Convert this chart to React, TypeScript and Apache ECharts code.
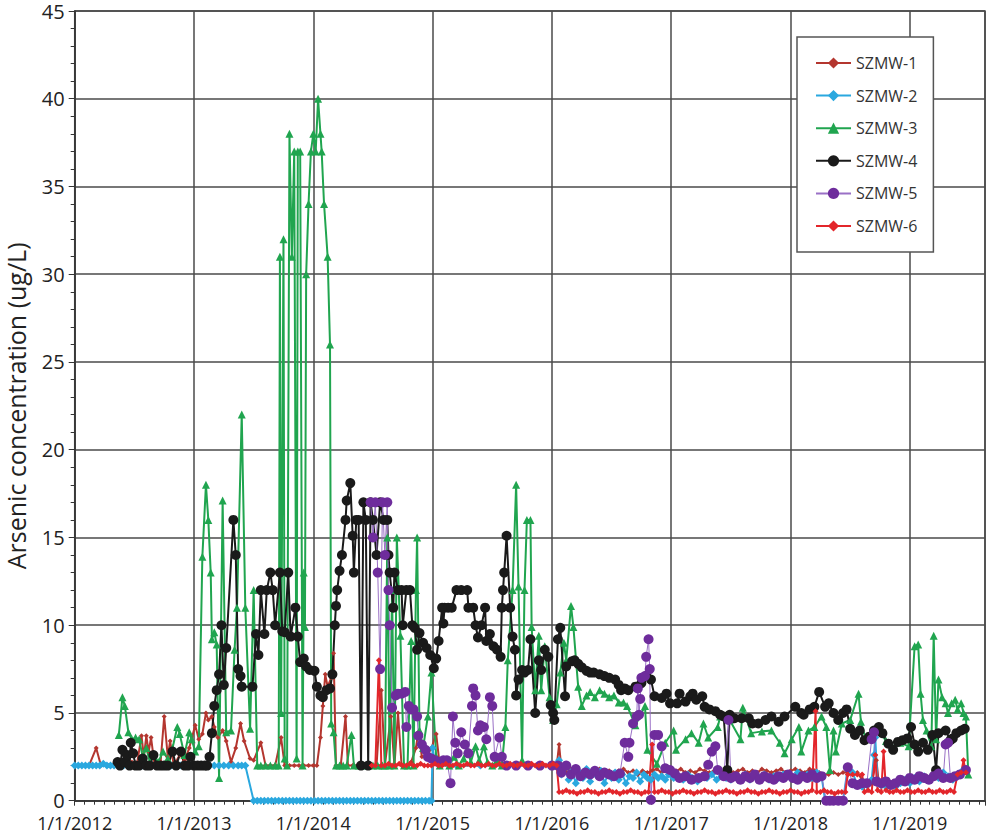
import React, { useEffect, useRef } from "react";
import * as echarts from "echarts";

type Pt = [number, number];

const seriesNames = ["SZMW-1", "SZMW-2", "SZMW-3", "SZMW-4", "SZMW-5", "SZMW-6"];
const yAxisTitle = "Arsenic concentration (ug/L)";
const xStartYear = 2012;
const xEndYear = 2019.63;

// x = decimal year, y = arsenic (ug/L)
const szmw1: Pt[] = [
  [2012.0, 2.0], [2012.06, 2.0], [2012.12, 2.0], [2012.18, 3.0], [2012.22, 2.0], [2012.28, 2.0], [2012.33, 2.1],
  [2012.38, 2.2], [2012.43, 2.0], [2012.48, 2.2], [2012.52, 2.0], [2012.56, 3.7], [2012.58, 2.5], [2012.6, 3.7],
  [2012.62, 2.8], [2012.64, 3.6], [2012.67, 2.0], [2012.72, 2.2], [2012.75, 4.8], [2012.78, 2.5], [2012.8, 3.4],
  [2012.83, 2.0], [2012.88, 2.6], [2012.92, 2.3], [2012.96, 3.0], [2013.01, 4.3], [2013.04, 3.5], [2013.07, 3.8],
  [2013.1, 5.0], [2013.12, 4.6], [2013.15, 4.8], [2013.17, 4.2], [2013.2, 3.6], [2013.24, 4.0], [2013.27, 3.4],
  [2013.31, 2.2], [2013.35, 3.0], [2013.39, 4.4], [2013.42, 3.4], [2013.47, 2.4], [2013.5, 2.3], [2013.56, 3.3],
  [2013.6, 2.0], [2013.64, 2.0], [2013.68, 2.0], [2013.73, 3.6], [2013.76, 2.0], [2013.8, 2.0], [2013.84, 2.0],
  [2013.88, 2.0], [2013.92, 2.0], [2013.96, 2.0], [2014.0, 2.0], [2014.03, 2.0], [2014.06, 3.6], [2014.08, 5.4],
  [2014.1, 7.2], [2014.12, 6.5], [2014.15, 7.0], [2014.17, 8.4], [2014.19, 2.0], [2014.23, 2.0], [2014.27, 4.8],
  [2014.29, 2.0], [2014.33, 2.0], [2014.37, 2.0], [2014.41, 2.0], [2014.45, 2.0], [2014.49, 2.0], [2014.53, 2.0],
  [2014.57, 6.3], [2014.6, 2.0], [2014.65, 4.8], [2014.68, 2.0], [2014.71, 5.0], [2014.74, 2.0], [2014.78, 2.0],
  [2014.82, 2.2], [2014.86, 3.0], [2014.88, 3.9], [2014.91, 2.5], [2014.95, 2.5], [2014.99, 3.0], [2015.03, 3.8],
  [2015.06, 2.0], [2015.2, 2.0], [2015.4, 2.0], [2015.6, 2.0], [2015.8, 2.0], [2016.0, 2.0], [2016.04, 2.0],
  [2016.06, 3.2], [2016.08, 1.8], [2016.12, 1.6], [2016.16, 1.8], [2016.2, 1.7], [2016.24, 1.6], [2016.28, 1.7],
  [2016.32, 1.5], [2016.36, 1.7], [2016.4, 1.8], [2016.44, 1.6], [2016.48, 1.7], [2016.52, 1.6], [2016.56, 1.7],
  [2016.6, 1.8], [2016.64, 1.6], [2016.68, 1.7], [2016.72, 1.5], [2016.76, 1.7], [2016.8, 1.6], [2016.84, 1.7],
  [2016.88, 1.8], [2016.92, 1.6], [2016.96, 1.7], [2017.0, 1.6], [2017.04, 1.7], [2017.08, 1.8], [2017.12, 1.6],
  [2017.16, 1.7], [2017.2, 1.6], [2017.24, 1.8], [2017.28, 1.7], [2017.32, 1.6], [2017.36, 1.7], [2017.4, 1.8],
  [2017.44, 1.6], [2017.48, 1.7], [2017.52, 1.6], [2017.56, 1.7], [2017.6, 1.8], [2017.64, 1.6], [2017.68, 1.7],
  [2017.72, 1.6], [2017.76, 1.8], [2017.8, 1.7], [2017.84, 1.6], [2017.88, 1.7], [2017.92, 1.8], [2017.96, 1.6],
  [2018.0, 1.7], [2018.04, 1.8], [2018.08, 1.7], [2018.12, 1.6], [2018.16, 1.8], [2018.2, 1.7], [2018.24, 1.6],
  [2018.28, 1.5], [2018.32, 1.5], [2018.36, 1.6], [2018.4, 1.5], [2018.44, 1.6], [2018.48, 1.6], [2018.52, 1.5],
  [2018.56, 1.6], [2018.6, 1.2], [2018.64, 0.9], [2018.68, 1.0], [2018.72, 2.3], [2018.74, 1.0], [2018.78, 0.9],
  [2018.82, 1.0], [2018.86, 1.1], [2018.9, 0.9], [2018.94, 1.0], [2018.98, 1.2], [2019.02, 1.1], [2019.06, 1.3],
  [2019.1, 1.2], [2019.14, 1.4], [2019.18, 1.2], [2019.22, 1.3], [2019.26, 1.5], [2019.3, 1.3], [2019.34, 1.2],
  [2019.38, 1.4], [2019.42, 1.6], [2019.46, 1.7],
];

const szmw2: Pt[] = [
  [2012.0, 2.0], [2012.03, 2.0], [2012.06, 2.0], [2012.09, 2.0], [2012.12, 2.0], [2012.15, 2.0], [2012.18, 2.0],
  [2012.21, 2.0], [2012.24, 2.1], [2012.27, 2.0], [2012.3, 2.0], [2012.33, 2.0], [2012.37, 2.0], [2012.41, 2.0],
  [2012.45, 2.0], [2012.49, 2.0], [2012.53, 2.0], [2012.57, 2.0], [2012.61, 2.0], [2012.65, 2.0], [2012.69, 2.0],
  [2012.73, 2.0], [2012.77, 2.0], [2012.81, 2.0], [2012.85, 2.0], [2012.89, 2.0], [2012.93, 2.0], [2012.97, 2.0],
  [2013.01, 2.0], [2013.05, 2.0], [2013.09, 2.0], [2013.13, 2.0], [2013.17, 2.0], [2013.21, 2.0], [2013.25, 2.0],
  [2013.29, 2.0], [2013.33, 2.0], [2013.37, 2.0], [2013.4, 2.0], [2013.43, 2.0],
  [2013.5, 0], [2013.53, 0], [2013.56, 0], [2013.59, 0], [2013.62, 0], [2013.65, 0], [2013.68, 0], [2013.71, 0],
  [2013.74, 0], [2013.77, 0], [2013.8, 0], [2013.83, 0], [2013.86, 0], [2013.89, 0], [2013.92, 0], [2013.95, 0],
  [2013.98, 0], [2014.01, 0], [2014.04, 0], [2014.07, 0], [2014.1, 0], [2014.13, 0], [2014.16, 0], [2014.19, 0],
  [2014.22, 0], [2014.25, 0], [2014.28, 0], [2014.31, 0], [2014.34, 0], [2014.37, 0], [2014.4, 0], [2014.43, 0],
  [2014.46, 0], [2014.49, 0], [2014.52, 0], [2014.55, 0], [2014.58, 0], [2014.61, 0], [2014.64, 0], [2014.67, 0],
  [2014.7, 0], [2014.73, 0], [2014.76, 0], [2014.79, 0], [2014.82, 0], [2014.85, 0], [2014.88, 0], [2014.91, 0],
  [2014.94, 0], [2014.97, 0], [2014.99, 0],
  [2015.0, 3.0], [2015.02, 2.2], [2015.06, 2.0], [2015.2, 2.0], [2015.4, 2.0], [2015.6, 2.0], [2015.8, 2.0],
  [2016.02, 2.0], [2016.06, 2.3], [2016.08, 1.5], [2016.11, 1.9], [2016.14, 1.2], [2016.17, 1.7], [2016.2, 1.0],
  [2016.23, 1.6], [2016.26, 1.3], [2016.29, 1.8], [2016.32, 1.1], [2016.35, 1.6], [2016.38, 1.4], [2016.41, 1.7],
  [2016.44, 1.0], [2016.47, 1.5], [2016.5, 1.3], [2016.53, 1.6], [2016.56, 1.2], [2016.59, 1.5], [2016.62, 1.0],
  [2016.65, 1.4], [2016.68, 1.3], [2016.71, 1.6], [2016.74, 1.1], [2016.77, 1.5], [2016.8, 1.3], [2016.83, 1.2],
  [2016.86, 1.5], [2016.89, 1.3], [2016.92, 1.4], [2016.95, 1.2], [2016.98, 1.5], [2017.02, 1.3], [2017.06, 1.4],
  [2017.1, 1.2], [2017.14, 1.5], [2017.18, 1.3], [2017.22, 1.1], [2017.26, 1.4], [2017.3, 1.3], [2017.34, 1.5],
  [2017.38, 1.2], [2017.42, 1.4], [2017.46, 1.3], [2017.5, 1.2], [2017.54, 1.4], [2017.58, 1.3], [2017.62, 1.5],
  [2017.66, 1.2], [2017.7, 1.4], [2017.74, 1.3], [2017.78, 1.5], [2017.82, 1.2], [2017.86, 1.4], [2017.9, 1.3],
  [2017.94, 1.5], [2017.98, 1.4], [2018.02, 1.3], [2018.06, 1.6], [2018.1, 1.4], [2018.14, 1.5], [2018.18, 1.3],
  [2018.22, 1.6], [2018.26, 1.4], [2018.29, 0], [2018.32, 0], [2018.35, 0], [2018.38, 0], [2018.41, 0], [2018.44, 0],
  [2018.48, 1.9], [2018.52, 1.6], [2018.56, 0.9], [2018.6, 0.8], [2018.64, 0.9], [2018.68, 1.2], [2018.7, 2.6],
  [2018.71, 3.6], [2018.73, 1.0], [2018.76, 0.9], [2018.8, 0.8], [2018.84, 0.9], [2018.88, 0.8], [2018.92, 1.0],
  [2018.96, 1.2], [2019.0, 1.0], [2019.04, 1.3], [2019.08, 1.1], [2019.12, 1.4], [2019.16, 1.2], [2019.2, 1.5],
  [2019.24, 1.3], [2019.28, 1.6], [2019.32, 1.4], [2019.36, 1.2], [2019.4, 1.5], [2019.44, 1.7], [2019.47, 1.8],
];

const szmw3: Pt[] = [
  [2012.37, 3.75], [2012.4, 5.9], [2012.42, 5.4], [2012.45, 3.9], [2012.48, 3.5], [2012.51, 3.6], [2012.54, 3.5],
  [2012.57, 2.5], [2012.6, 3.0], [2012.63, 2.2], [2012.66, 2.6], [2012.7, 2.2], [2012.74, 2.8], [2012.78, 2.4],
  [2012.82, 3.0], [2012.86, 4.2], [2012.88, 3.8], [2012.92, 2.6], [2012.96, 3.9], [2012.98, 3.5], [2013.01, 2.8],
  [2013.04, 3.1], [2013.07, 13.9], [2013.1, 18.0], [2013.12, 16.0], [2013.14, 13.0], [2013.15, 9.2], [2013.17, 9.6],
  [2013.19, 8.9], [2013.21, 1.3], [2013.24, 17.1], [2013.27, 3.9], [2013.31, 4.0], [2013.34, 8.6], [2013.36, 11.0],
  [2013.4, 22.0], [2013.43, 11.0], [2013.47, 4.1], [2013.5, 12.0], [2013.53, 2.0], [2013.56, 2.0], [2013.6, 2.0],
  [2013.64, 2.0], [2013.68, 2.0], [2013.71, 2.0], [2013.72, 31.0], [2013.73, 5.0], [2013.75, 32.0], [2013.76, 2.4],
  [2013.78, 2.0], [2013.8, 38.0], [2013.82, 31.0], [2013.84, 37.0], [2013.86, 2.4], [2013.87, 37.0], [2013.89, 37.0],
  [2013.91, 2.0], [2013.92, 13.0], [2013.93, 9.9], [2013.94, 30.0], [2013.96, 34.0], [2013.98, 37.0], [2014.0, 38.0],
  [2014.02, 37.0], [2014.04, 40.0], [2014.06, 38.0], [2014.07, 37.0], [2014.09, 34.0], [2014.12, 31.0],
  [2014.14, 26.0], [2014.15, 4.4], [2014.17, 3.9], [2014.19, 2.0], [2014.22, 2.0], [2014.25, 2.0], [2014.28, 2.0],
  [2014.32, 3.75], [2014.34, 2.0], [2014.38, 2.0], [2014.42, 2.0], [2014.46, 2.0], [2014.5, 2.0], [2014.54, 2.0],
  [2014.58, 2.0], [2014.6, 2.0], [2014.62, 15.0], [2014.64, 2.0], [2014.66, 12.0], [2014.68, 2.0], [2014.7, 15.0],
  [2014.73, 9.4], [2014.76, 2.0], [2014.79, 2.0], [2014.82, 9.1], [2014.84, 2.0], [2014.86, 12.0], [2014.87, 15.0],
  [2014.89, 4.0], [2014.92, 3.0], [2014.96, 4.8], [2014.99, 7.3], [2015.03, 2.5], [2015.06, 2.0], [2015.1, 2.2],
  [2015.14, 2.0], [2015.18, 2.5], [2015.22, 2.0], [2015.26, 2.4], [2015.29, 2.9], [2015.32, 2.2], [2015.36, 3.1],
  [2015.39, 2.3], [2015.43, 3.1], [2015.46, 2.2], [2015.5, 2.0], [2015.54, 2.3], [2015.58, 2.0], [2015.61, 4.2],
  [2015.63, 8.0], [2015.67, 12.0], [2015.7, 18.0], [2015.72, 12.2], [2015.75, 2.3], [2015.77, 12.0], [2015.79, 16.0],
  [2015.82, 16.0], [2015.83, 9.9], [2015.86, 6.3], [2015.89, 9.4], [2015.91, 6.3], [2015.94, 8.8], [2015.98, 5.9],
  [2016.01, 4.6], [2016.04, 5.5], [2016.07, 7.3], [2016.1, 9.0], [2016.12, 8.0], [2016.16, 11.1], [2016.18, 9.9],
  [2016.22, 6.5], [2016.25, 5.4], [2016.29, 6.0], [2016.32, 6.2], [2016.36, 5.9], [2016.4, 6.3], [2016.44, 6.1],
  [2016.48, 5.9], [2016.52, 6.0], [2016.56, 5.6], [2016.6, 5.6], [2016.63, 5.4], [2016.7, 4.3], [2016.78, 5.4],
  [2016.8, 2.9], [2016.88, 2.1], [2016.95, 3.3], [2017.02, 4.0], [2017.04, 2.9], [2017.12, 3.5], [2017.17, 3.85],
  [2017.23, 3.3], [2017.27, 4.4], [2017.31, 3.6], [2017.39, 4.2], [2017.41, 4.8], [2017.49, 4.6], [2017.58, 3.5],
  [2017.6, 5.3], [2017.67, 3.85], [2017.76, 3.95], [2017.84, 4.0], [2017.91, 3.3], [2017.95, 2.7], [2018.01, 3.5],
  [2018.07, 4.2], [2018.09, 2.8], [2018.15, 4.0], [2018.2, 4.2], [2018.26, 4.8], [2018.3, 4.2], [2018.33, 1.75],
  [2018.36, 4.0], [2018.38, 2.8], [2018.43, 4.4], [2018.5, 4.6], [2018.57, 6.1], [2018.59, 4.5], [2018.63, 3.5],
  [2018.68, 3.7], [2018.74, 4.0], [2018.8, 3.4], [2018.86, 3.0], [2018.92, 3.3], [2018.99, 3.1], [2019.04, 8.8],
  [2019.07, 8.9], [2019.09, 6.1], [2019.11, 4.6], [2019.14, 4.0], [2019.18, 3.1], [2019.2, 9.4], [2019.22, 3.5],
  [2019.24, 6.9], [2019.27, 5.9], [2019.3, 5.55], [2019.32, 5.0], [2019.35, 5.55], [2019.38, 5.75], [2019.4, 5.2],
  [2019.43, 5.55], [2019.45, 5.0], [2019.47, 4.8], [2019.49, 1.5],
];

const szmw4: Pt[] = [
  [2012.36, 2.2], [2012.38, 2.0], [2012.4, 2.9], [2012.42, 2.2], [2012.44, 2.6], [2012.46, 2.0], [2012.47, 3.3],
  [2012.49, 2.7], [2012.51, 2.0], [2012.54, 2.0], [2012.57, 2.4], [2012.6, 2.0], [2012.63, 2.0], [2012.66, 2.6],
  [2012.69, 2.0], [2012.72, 2.0], [2012.75, 2.0], [2012.78, 2.0], [2012.82, 2.8], [2012.85, 2.0], [2012.89, 2.8],
  [2012.92, 2.0], [2012.95, 2.0], [2012.97, 2.5], [2013.0, 2.0], [2013.03, 2.0], [2013.06, 2.0], [2013.09, 2.0],
  [2013.11, 2.0], [2013.13, 2.5], [2013.15, 3.85], [2013.17, 5.4], [2013.19, 6.3], [2013.21, 7.2], [2013.23, 10.0],
  [2013.25, 6.6], [2013.27, 8.7], [2013.33, 16.0], [2013.35, 14.0], [2013.37, 7.5], [2013.39, 7.1], [2013.4, 6.5],
  [2013.49, 6.5], [2013.52, 9.5], [2013.54, 8.3], [2013.56, 12.0], [2013.59, 9.5], [2013.61, 12.0], [2013.64, 13.0],
  [2013.66, 12.0], [2013.68, 10.0], [2013.72, 13.0], [2013.74, 9.65], [2013.76, 9.6], [2013.79, 13.0],
  [2013.81, 9.35], [2013.85, 11.0], [2013.87, 9.35], [2013.89, 7.9], [2013.92, 8.1], [2013.94, 7.65], [2013.97, 7.45],
  [2014.01, 7.4], [2014.03, 6.5], [2014.06, 6.0], [2014.08, 5.9], [2014.11, 6.3], [2014.14, 6.4], [2014.16, 7.2],
  [2014.18, 10.0], [2014.19, 11.1], [2014.2, 12.0], [2014.22, 13.1], [2014.24, 14.0], [2014.27, 16.0],
  [2014.28, 17.1], [2014.31, 18.1], [2014.33, 15.1], [2014.34, 13.0], [2014.36, 16.0], [2014.38, 16.0],
  [2014.4, 2.0], [2014.42, 17.0], [2014.44, 16.0], [2014.46, 2.0], [2014.48, 17.0], [2014.5, 16.0], [2014.53, 14.0],
  [2014.56, 17.0], [2014.59, 16.0], [2014.62, 16.0], [2014.63, 14.0], [2014.64, 13.0], [2014.67, 11.0],
  [2014.68, 13.0], [2014.71, 12.0], [2014.74, 12.0], [2014.75, 10.0], [2014.78, 12.0], [2014.81, 12.0],
  [2014.83, 10.0], [2014.85, 9.85], [2014.87, 8.6], [2014.89, 9.55], [2014.92, 9.0], [2014.95, 8.7], [2014.98, 8.3],
  [2015.01, 7.55], [2015.03, 8.1], [2015.05, 9.1], [2015.08, 11.0], [2015.09, 10.1], [2015.1, 11.0], [2015.13, 11.0],
  [2015.16, 11.0], [2015.2, 12.0], [2015.24, 12.0], [2015.29, 12.0], [2015.3, 11.0], [2015.34, 11.0], [2015.36, 10.0],
  [2015.38, 9.3], [2015.41, 10.0], [2015.44, 11.0], [2015.45, 9.1], [2015.48, 9.5], [2015.51, 8.8], [2015.54, 8.6],
  [2015.57, 8.2], [2015.58, 11.0], [2015.59, 12.0], [2015.6, 13.0], [2015.62, 15.1], [2015.65, 11.0], [2015.67, 9.35],
  [2015.69, 8.6], [2015.7, 6.0], [2015.72, 6.9], [2015.75, 7.45], [2015.77, 7.3], [2015.8, 7.45], [2015.82, 9.2],
  [2015.86, 5.0], [2015.89, 8.0], [2015.91, 7.45], [2015.94, 8.6], [2015.97, 8.2], [2015.99, 5.45], [2016.01, 5.0],
  [2016.02, 4.6], [2016.05, 9.2], [2016.07, 9.85], [2016.11, 5.95], [2016.12, 7.65], [2016.17, 7.95], [2016.19, 8.0],
  [2016.22, 7.8], [2016.25, 7.6], [2016.29, 7.4], [2016.32, 7.3], [2016.35, 7.3], [2016.4, 7.2], [2016.44, 7.1],
  [2016.48, 7.0], [2016.53, 6.9], [2016.56, 6.6], [2016.58, 6.3], [2016.61, 6.4], [2016.64, 6.3], [2016.7, 6.5],
  [2016.75, 6.7], [2016.79, 7.1], [2016.83, 6.9], [2016.86, 5.95], [2016.92, 5.85], [2016.96, 6.1], [2016.99, 5.55],
  [2017.05, 5.55], [2017.07, 6.1], [2017.12, 5.65], [2017.16, 5.95], [2017.18, 6.1], [2017.21, 5.75], [2017.26, 5.95],
  [2017.28, 5.35], [2017.32, 5.2], [2017.37, 5.1], [2017.41, 4.9], [2017.44, 4.8], [2017.47, 1.75], [2017.49, 4.9],
  [2017.53, 4.7], [2017.59, 4.7], [2017.65, 4.7], [2017.68, 4.4], [2017.73, 4.4], [2017.79, 4.6], [2017.84, 4.8],
  [2017.9, 4.5], [2017.95, 4.8], [2018.04, 5.35], [2018.09, 5.0], [2018.11, 4.9], [2018.16, 5.2], [2018.2, 5.35],
  [2018.24, 6.2], [2018.29, 5.35], [2018.32, 5.55], [2018.36, 5.0], [2018.4, 4.6], [2018.44, 5.0], [2018.47, 5.2],
  [2018.5, 4.1], [2018.54, 3.75], [2018.58, 4.0], [2018.62, 3.45], [2018.66, 3.65], [2018.7, 4.0], [2018.74, 4.2],
  [2018.77, 3.85], [2018.82, 3.25], [2018.86, 2.9], [2018.9, 3.35], [2018.94, 3.45], [2018.98, 3.55], [2019.01, 4.2],
  [2019.04, 3.2], [2019.07, 2.8], [2019.11, 3.3], [2019.15, 2.9], [2019.19, 3.75], [2019.22, 1.75], [2019.24, 3.85],
  [2019.3, 4.0], [2019.34, 3.45], [2019.36, 3.55], [2019.39, 3.85], [2019.43, 4.0], [2019.46, 4.1],
];

const szmw5: Pt[] = [
  [2014.48, 17.0], [2014.5, 15.0], [2014.52, 17.0], [2014.54, 13.0], [2014.56, 7.5], [2014.58, 17.0], [2014.6, 14.0],
  [2014.62, 17.0], [2014.63, 12.0], [2014.64, 10.0], [2014.66, 5.3], [2014.69, 6.0], [2014.71, 6.1], [2014.74, 6.1],
  [2014.77, 6.2], [2014.78, 4.2], [2014.8, 5.4], [2014.82, 5.2], [2014.84, 5.2], [2014.87, 4.8], [2014.88, 3.7],
  [2014.91, 3.2], [2014.94, 2.9], [2014.96, 2.5], [2014.99, 2.4], [2015.02, 2.3], [2015.05, 2.2], [2015.09, 2.3],
  [2015.12, 2.3], [2015.15, 1.0], [2015.17, 4.8], [2015.19, 3.3], [2015.21, 2.7], [2015.24, 3.9], [2015.27, 3.2],
  [2015.3, 2.7], [2015.33, 5.4], [2015.34, 6.4], [2015.36, 6.0], [2015.38, 4.0], [2015.4, 4.3], [2015.43, 4.2],
  [2015.45, 3.5], [2015.48, 5.9], [2015.5, 5.4], [2015.52, 2.5], [2015.56, 3.6], [2015.58, 2.5], [2015.62, 2.0],
  [2015.7, 2.0], [2015.8, 2.0], [2015.9, 2.0], [2016.0, 2.0], [2016.05, 2.0], [2016.08, 1.6], [2016.12, 2.0],
  [2016.16, 1.5], [2016.2, 1.8], [2016.24, 1.4], [2016.28, 1.6], [2016.32, 1.5], [2016.36, 1.7], [2016.4, 1.4],
  [2016.44, 1.6], [2016.48, 1.5], [2016.52, 1.4], [2016.57, 1.55], [2016.61, 3.3], [2016.64, 2.5], [2016.65, 3.3],
  [2016.68, 4.4], [2016.71, 4.8], [2016.72, 6.4], [2016.73, 4.9], [2016.74, 5.8], [2016.75, 7.0], [2016.78, 7.1],
  [2016.79, 8.2], [2016.81, 9.2], [2016.82, 7.5], [2016.83, 0.05], [2016.86, 3.75], [2016.89, 3.75], [2016.92, 3.1],
  [2016.95, 1.85], [2016.99, 1.75], [2017.03, 1.55], [2017.07, 1.3], [2017.12, 1.4], [2017.17, 1.2], [2017.23, 1.3],
  [2017.28, 1.4], [2017.31, 2.05], [2017.34, 2.8], [2017.37, 3.1], [2017.39, 1.75], [2017.44, 1.4], [2017.48, 4.6],
  [2017.5, 1.3], [2017.54, 1.4], [2017.58, 1.2], [2017.62, 1.4], [2017.66, 1.3], [2017.7, 1.5], [2017.74, 1.2],
  [2017.78, 1.4], [2017.82, 1.3], [2017.86, 1.2], [2017.9, 1.4], [2017.94, 1.3], [2017.98, 1.5], [2018.02, 1.3],
  [2018.06, 1.2], [2018.1, 1.4], [2018.14, 1.3], [2018.18, 1.5], [2018.22, 1.3], [2018.26, 1.4], [2018.3, 0],
  [2018.33, 0], [2018.36, 0], [2018.4, 0], [2018.44, 0], [2018.48, 1.9], [2018.52, 1.0], [2018.56, 0.9],
  [2018.6, 1.0], [2018.64, 1.0], [2018.68, 3.5], [2018.7, 3.9], [2018.72, 1.1], [2018.76, 1.0], [2018.8, 1.1],
  [2018.84, 0.9], [2018.88, 1.0], [2018.92, 1.2], [2018.96, 1.1], [2019.0, 1.3], [2019.04, 1.2], [2019.08, 1.4],
  [2019.12, 1.3], [2019.16, 1.2], [2019.2, 1.4], [2019.24, 1.55], [2019.28, 1.3], [2019.3, 3.2], [2019.32, 3.3],
  [2019.34, 1.3], [2019.38, 1.4], [2019.42, 1.5], [2019.47, 1.75],
];

const szmw6: Pt[] = [
  [2014.49, 2.0], [2014.52, 2.0], [2014.55, 8.0], [2014.57, 2.0], [2014.6, 2.0], [2014.63, 2.1], [2014.66, 2.0],
  [2014.69, 2.0], [2014.72, 2.1], [2014.75, 2.0], [2014.78, 2.0], [2014.81, 2.1], [2014.84, 2.0], [2014.87, 2.0],
  [2014.9, 2.1], [2014.93, 2.0], [2014.96, 2.0], [2014.99, 2.0], [2015.02, 2.1], [2015.05, 2.0], [2015.08, 2.0],
  [2015.11, 2.1], [2015.14, 2.0], [2015.17, 2.0], [2015.2, 2.1], [2015.23, 2.0], [2015.26, 2.0], [2015.29, 2.1],
  [2015.32, 2.0], [2015.35, 2.0], [2015.38, 2.1], [2015.41, 2.0], [2015.44, 2.0], [2015.47, 2.1], [2015.5, 2.0],
  [2015.53, 2.0], [2015.56, 2.1], [2015.59, 2.0], [2015.62, 2.0], [2015.65, 2.1], [2015.68, 2.0], [2015.71, 2.0],
  [2015.74, 2.1], [2015.77, 2.0], [2015.8, 2.0], [2015.83, 2.1], [2015.86, 2.0], [2015.89, 2.0], [2015.92, 2.1],
  [2015.95, 2.0], [2015.98, 2.0], [2016.01, 2.1], [2016.04, 2.0], [2016.06, 0.5], [2016.09, 0.5], [2016.12, 0.6],
  [2016.15, 0.5], [2016.18, 0.5], [2016.21, 0.4], [2016.24, 0.5], [2016.27, 0.5], [2016.3, 0.6], [2016.33, 0.5],
  [2016.36, 0.5], [2016.39, 0.4], [2016.42, 0.5], [2016.45, 0.5], [2016.48, 0.6], [2016.51, 0.5], [2016.54, 0.5],
  [2016.57, 0.4], [2016.6, 0.5], [2016.63, 0.5], [2016.66, 0.6], [2016.69, 0.5], [2016.72, 0.5], [2016.75, 0.4],
  [2016.78, 0.5], [2016.81, 0.5], [2016.84, 3.2], [2016.86, 0.5], [2016.89, 0.5], [2016.92, 0.6], [2016.95, 0.5],
  [2016.98, 0.5], [2017.01, 0.4], [2017.04, 0.5], [2017.07, 0.5], [2017.1, 0.6], [2017.13, 0.5], [2017.16, 0.5],
  [2017.19, 0.4], [2017.22, 0.5], [2017.25, 0.5], [2017.28, 0.6], [2017.31, 0.5], [2017.34, 0.5], [2017.37, 0.4],
  [2017.4, 0.5], [2017.43, 0.5], [2017.46, 0.6], [2017.49, 0.5], [2017.52, 0.5], [2017.55, 0.4], [2017.58, 0.5],
  [2017.61, 0.5], [2017.64, 0.6], [2017.67, 0.5], [2017.7, 0.5], [2017.73, 0.4], [2017.76, 0.5], [2017.79, 0.5],
  [2017.82, 0.6], [2017.85, 0.5], [2017.88, 0.5], [2017.91, 0.4], [2017.94, 0.5], [2017.97, 0.5], [2018.0, 0.6],
  [2018.03, 0.5], [2018.06, 0.5], [2018.09, 0.4], [2018.12, 0.5], [2018.15, 0.5], [2018.18, 0.6], [2018.21, 5.1],
  [2018.22, 0.5], [2018.25, 0.5], [2018.28, 0.6], [2018.31, 0.5], [2018.34, 0.5], [2018.37, 0.4], [2018.4, 0.5],
  [2018.43, 0.5], [2018.46, 0.5], [2018.48, 1.5], [2018.52, 1.5], [2018.56, 1.5], [2018.6, 1.5], [2018.62, 0.5],
  [2018.65, 0.6], [2018.68, 0.5], [2018.71, 2.6], [2018.73, 0.6], [2018.76, 0.5], [2018.78, 2.8], [2018.8, 0.6],
  [2018.83, 0.5], [2018.86, 0.5], [2018.89, 0.6], [2018.92, 0.5], [2018.95, 0.5], [2018.98, 0.6], [2019.01, 0.5],
  [2019.04, 0.5], [2019.07, 0.6], [2019.1, 0.5], [2019.13, 0.5], [2019.16, 0.6], [2019.19, 0.5], [2019.22, 0.5],
  [2019.25, 0.6], [2019.28, 0.5], [2019.31, 0.5], [2019.34, 0.6], [2019.37, 0.5], [2019.4, 1.5], [2019.43, 1.6],
  [2019.45, 2.3], [2019.47, 1.6],
];

const FONT = "'Open Sans', 'Liberation Sans', sans-serif";

const styles = [
  { line: "#b4362f", item: "#b4362f", symbol: "diamond", size: 5, width: 2 },
  { line: "#2aa8df", item: "#2aa8df", symbol: "diamond", size: 8, width: 2 },
  { line: "#20a54f", item: "#20a54f", symbol: "triangle", size: 8, width: 2 },
  { line: "#1a1a1a", item: "#1a1a1a", symbol: "circle", size: 10, width: 2 },
  { line: "#9a70c6", item: "#6e2c9c", symbol: "circle", size: 10, width: 1 },
  { line: "#e3262b", item: "#e3262b", symbol: "diamond", size: 6, width: 2 },
];

const allData = [szmw1, szmw2, szmw3, szmw4, szmw5, szmw6];

export default function App() {
  const ref = useRef<HTMLDivElement>(null);
  useEffect(() => {
    if (!ref.current) return;
    const chart = echarts.init(ref.current, undefined, { renderer: "svg" });
    chart.setOption({
      animation: false,
      backgroundColor: "#ffffff",
      grid: {
        left: 74.7,
        right: 2,
        top: 11,
        bottom: 33.3,
        outerBoundsMode: "none",
        containLabel: false,
        show: true,
        borderColor: "#4a4a4a",
        borderWidth: 1.5,
        backgroundColor: "transparent",
      },
      legend: {
        orient: "vertical",
        left: 797,
        top: 37,
        padding: [18, 16, 18, 18],
        itemGap: 16.6,
        itemWidth: 35,
        itemHeight: 14,
        backgroundColor: "#ffffff",
        borderColor: "#555",
        borderWidth: 1.5,
        borderRadius: 0,
        data: seriesNames,
        textStyle: { fontSize: 16, color: "#333", fontFamily: FONT },
      },
      xAxis: {
        type: "value",
        min: xStartYear,
        max: xEndYear,
        interval: 1,
        axisLine: { show: true, lineStyle: { color: "#333", width: 1.5 } },
        axisTick: { show: true, length: 5, lineStyle: { color: "#333" } },
        minorTick: { show: true, splitNumber: 12, length: 4, lineStyle: { color: "#333" } },
        splitLine: { show: true, lineStyle: { color: "#4a4a4a", width: 1.5 } },
        axisLabel: {
          showMaxLabel: false,
          margin: 13,
          fontSize: 18,
          lineHeight: 18,
          color: "#222",
          fontFamily: FONT,
          formatter: (v: number) => (Math.abs(v - Math.round(v)) < 1e-6 ? `1/1/${Math.round(v)}` : ""),
        },
      },
      yAxis: {
        type: "value",
        min: 0,
        max: 45,
        interval: 5,
        name: yAxisTitle,
        nameLocation: "middle",
        nameGap: 46,
        nameTextStyle: { fontSize: 25, color: "#222", fontFamily: FONT },
        axisLine: { show: true, lineStyle: { color: "#333", width: 1.5 } },
        axisTick: { show: true, length: 6, lineStyle: { color: "#333" } },
        minorTick: { show: true, splitNumber: 5, length: 4, lineStyle: { color: "#333" } },
        splitLine: { show: true, lineStyle: { color: "#4a4a4a", width: 1.5 } },
        axisLabel: { fontSize: 20, lineHeight: 16, color: "#222", fontFamily: FONT, margin: 10 },
      },
      series: allData.map((d, i) => ({
        name: seriesNames[i],
        type: "line",
        data: d,
        symbol: styles[i].symbol,
        symbolSize: styles[i].size,
        showAllSymbol: true,
        lineStyle: { color: styles[i].line, width: styles[i].width },
        itemStyle: { color: styles[i].item },
        emphasis: { disabled: true },
        clip: true,
      })),
    });
    return () => chart.dispose();
  }, []);
  return (
    <div
      ref={ref}
      style={{ position: "fixed", left: 0, top: 0, width: 987, height: 834, background: "#fff" }}
    />
  );
}
